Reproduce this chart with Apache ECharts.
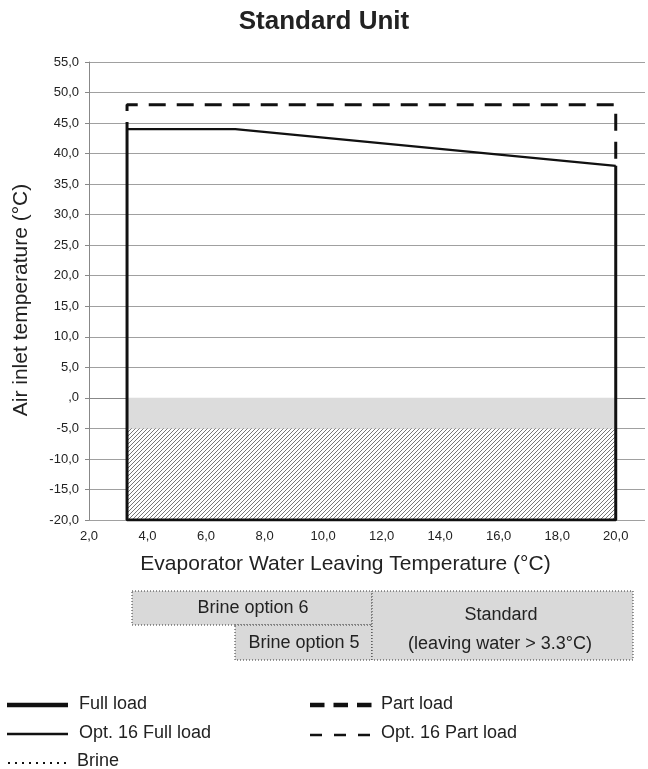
<!DOCTYPE html>
<html>
<head>
<meta charset="utf-8">
<title>Standard Unit</title>
<script src="https://cdn.jsdelivr.net/npm/echarts@6/dist/echarts.min.js"></script>
<style>
    html, body { margin: 0; padding: 0; background: #fff; }
    #chart { width: 648px; height: 769px; }
</style>
</head>
<body>
<div id="chart"></div>
<script>
    // operating envelope, x = evaporator leaving water (°C), y = air inlet (°C)
    const fullLoadFrame = [[3.3, 45], [3.3, -20], [20, -20], [20, 38]]
    const fullLoadTop = [[3.3, 44], [7, 44], [20, 38]]
    const partLoad = [[3.3, 45], [3.3, 48], [20, 48], [20, 38]]
    // shaded zones: [xFrom, xTo, yTop, yBottom]
    const greyZone = [3.3, 20, 0, -5]
    const hatchZone = [3.3, 20, -5, -20]
    // axes
    const xMin = 2, xMax = 21, xStep = 2, xLastLabel = 20
    const yMin = -20, yMax = 55, yStep = 5

    const font = "'Liberation Sans', Arial, sans-serif"
    const ink = '#222'

    function comma(v) {
        if (v === 0) return ',0'
        return v.toFixed(1).replace('.', ',')
    }

    function hatchPattern() {
        let c = document.createElement('canvas')
        c.width = 4
        c.height = 4
        let ctx = c.getContext('2d')
        ctx.fillStyle = '#ffffff'
        ctx.fillRect(0, 0, 4, 4)
        ctx.fillStyle = '#777777'
        for (let i = 0; i < 4; i++) {
            ctx.fillRect(3 - i, i, 1, 1)
        }
        return c
    }

    const boxStyle = {fill: '#d9d9d9', stroke: '#333', lineWidth: 1, lineDash: [1, 2]}
    const boxText = (x, y, text) => ({
        type: 'text', x: x, y: y,
        style: {text: text, font: '18px ' + font, fill: ink, align: 'center', verticalAlign: 'middle'}
    })
    const legendText = (x, y, text) => ({
        type: 'text', x: x, y: y,
        style: {text: text, font: '18px ' + font, fill: ink, align: 'left', verticalAlign: 'middle'}
    })
    const legendLine = (x1, x2, y, width, dash) => ({
        type: 'polyline',
        shape: {points: [[x1, y], [x2, y]]},
        style: {stroke: '#111', lineWidth: width, lineDash: dash || null, fill: null}
    })

    let myChart = echarts.init(document.getElementById('chart'))
    let option = {
        animation: false,
        textStyle: {fontFamily: font},
        title: {
            text: 'Standard Unit',
            left: 'center',
            top: 4,
            padding: [5, 0, 5, 10],
            textStyle: {fontSize: 26, fontWeight: 'bold', color: ink, fontFamily: font}
        },
        grid: {
            left: 89,
            right: 3,
            top: 62,
            bottom: 249
        },
        xAxis: {
            type: 'value',
            min: xMin,
            max: xMax,
            interval: xStep,
            name: 'Evaporator Water Leaving Temperature (°C)',
            nameLocation: 'middle',
            nameGap: 34,
            nameTextStyle: {fontSize: 21, color: ink, fontFamily: font, padding: [0, 43, 0, 0]},
            axisLine: {lineStyle: {color: '#888'}},
            axisTick: {show: false},
            splitLine: {show: false},
            axisLabel: {
                fontSize: 13,
                color: ink,
                margin: 10,
                formatter: v => v > xLastLabel ? '' : comma(v)
            }
        },
        yAxis: {
            type: 'value',
            min: yMin,
            max: yMax,
            interval: yStep,
            name: 'Air inlet temperature (°C)',
            nameLocation: 'middle',
            nameGap: 57,
            nameTextStyle: {fontSize: 21, color: ink, fontFamily: font, padding: [0, 18, 0, 0]},
            axisLine: {show: true, lineStyle: {color: '#888'}},
            axisTick: {show: true, length: 4, lineStyle: {color: '#888'}},
            splitLine: {lineStyle: {color: '#a0a0a0'}},
            axisLabel: {
                fontSize: 13,
                color: ink,
                margin: 10,
                formatter: comma
            }
        },
        series: [
            {
                name: 'Full load',
                type: 'line',
                symbol: 'none',
                z: 3,
                lineStyle: {color: '#111', width: 3},
                data: fullLoadFrame,
                markArea: {
                    silent: true,
                    data: [
                        [{xAxis: greyZone[0], yAxis: greyZone[2], itemStyle: {color: '#dcdcdc'}},
                         {xAxis: greyZone[1], yAxis: greyZone[3]}],
                        [{xAxis: hatchZone[0], yAxis: hatchZone[2], itemStyle: {color: {image: hatchPattern(), repeat: 'repeat'}}},
                         {xAxis: hatchZone[1], yAxis: hatchZone[3]}]
                    ]
                }
            },
            {
                name: 'Full load top',
                type: 'line',
                symbol: 'none',
                z: 3,
                lineStyle: {color: '#111', width: 2.3},
                data: fullLoadTop
            },
            {
                name: 'Part load',
                type: 'line',
                symbol: 'none',
                z: 3,
                lineStyle: {color: '#111', width: 3, type: [17, 11], dashOffset: 16},
                data: partLoad
            }
        ],
        graphic: [
            // option boxes under the axis
            {type: 'rect', shape: {x: 132, y: 591, width: 240, height: 34}, style: boxStyle},
            {type: 'rect', shape: {x: 235, y: 625, width: 137, height: 35}, style: boxStyle},
            {type: 'rect', shape: {x: 372, y: 591, width: 261, height: 69}, style: boxStyle},
            boxText(253, 608, 'Brine option 6'),
            boxText(304, 643, 'Brine option 5'),
            boxText(501, 615, 'Standard'),
            boxText(500, 644, '(leaving water > 3.3°C)'),
            // legend
            legendLine(7, 68, 705, 4.5),
            legendText(79, 704, 'Full load'),
            legendLine(7, 68, 734, 2.5),
            legendText(79, 733, 'Opt. 16 Full load'),
            legendLine(8, 66, 763, 2, [2, 5]),
            legendText(77, 761, 'Brine'),
            legendLine(310, 372, 705, 4.5, [14.5, 9]),
            legendText(381, 704, 'Part load'),
            legendLine(310, 372, 735, 2.5, [12, 12]),
            legendText(381, 733, 'Opt. 16 Part load')
        ]
    }
    myChart.setOption(option)
</script>
</body>
</html>
